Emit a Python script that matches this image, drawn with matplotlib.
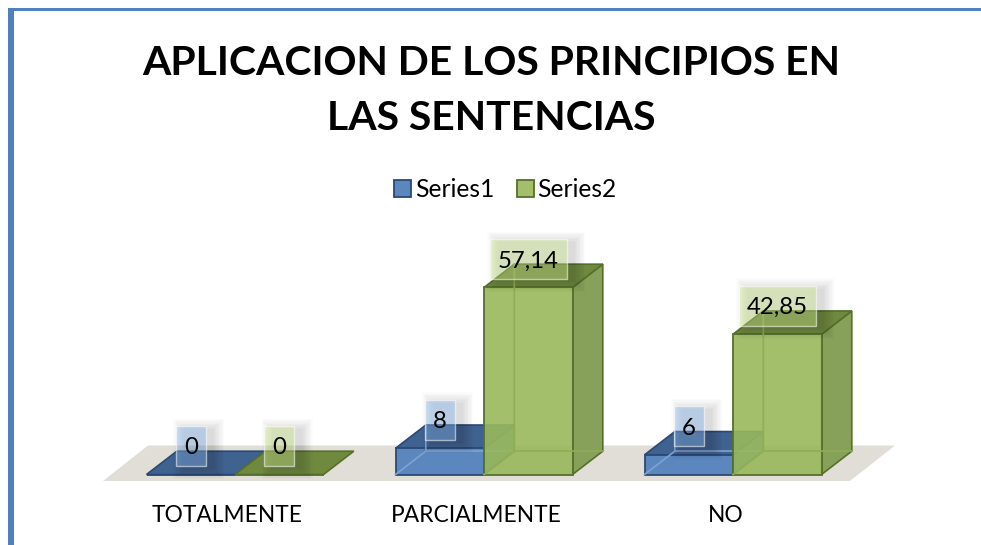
import matplotlib
matplotlib.use('Agg')
from matplotlib import pyplot as plt
from matplotlib.patches import Polygon, Rectangle

categories = ['TOTALMENTE', 'PARCIALMENTE', 'NO']
series1 = [0, 8, 6]
series2 = [0, 57.14, 42.85]
series_names = ['Series1', 'Series2']
title = 'APLICACION DE LOS PRINCIPIOS EN\nLAS SENTENCIAS'

plt.rcParams['font.family'] = ['Lato', 'DejaVu Sans']

W, H = 981, 545
# pixels per data unit, and where category 0 / value 0 sit in the picture
PX_X = 249.0
PX_Y = 3.273
X0 = 235.0
Y0 = 474.5
BAR_W = 88.5 / PX_X
DX = 30.3 / PX_X
DY = 23.3 / PX_Y

fig = plt.figure(figsize=(W / 100, H / 100), dpi=100)
ax = fig.add_axes([0, 0, 1, 1])
ax.set_xlim(-X0 / PX_X, (W - X0) / PX_X)
ax.set_ylim((Y0 - H) / PX_Y, Y0 / PX_Y)
ax.axis('off')


def px(x):
    return (x - X0) / PX_X


def py(y):
    return (Y0 - y) / PX_Y


# page border
fig.add_artist(Rectangle((8 / W, 0), 5.5 / W, 1 - 8 / H, transform=fig.transFigure, color='#4F81BD', lw=0))
fig.add_artist(Rectangle((8 / W, 1 - 10.5 / H), 1, 2.5 / H, transform=fig.transFigure, color='#4F81BD', lw=0))

# floor of the chart
ax.add_patch(Polygon([(px(103), py(481)), (px(850), py(481)), (px(895), py(445.5)), (px(148), py(445.5))],
                     facecolor='#E0DED7', edgecolor='none', zorder=1))


def draw_series(offset, values, front, top, side, edge, inner, name, z):
    xs = [i + offset for i in range(len(values))]
    for x, v in zip(xs, values):
        x0, x1 = x - BAR_W / 2, x + BAR_W / 2
        # back edges, seen through the front face
        if v > 0:
            ax.plot([x0, x0 + DX, x0 + DX], [0, DY, v + DY], color=inner, lw=1.2, zorder=z + 0.6)
            ax.plot([x0 + DX, x1 + DX], [DY, DY], color=inner, lw=1.2, zorder=z + 0.6)
            ax.add_patch(Polygon([(x1, 0), (x1 + DX, DY), (x1 + DX, v + DY), (x1, v)], facecolor=side,
                                 edgecolor=edge, lw=1.2, zorder=z + 0.2))
        ax.add_patch(Polygon([(x0, v), (x1, v), (x1 + DX, v + DY), (x0 + DX, v + DY)], facecolor=top,
                             edgecolor=edge, lw=1.2, zorder=z + 0.4))
    # the legend handle comes from this call, zero bars have no front to see
    ax.bar(xs, values, width=BAR_W, color=front, edgecolor=edge, linewidth=1.3, label=name, zorder=z + 0.5)


draw_series(-BAR_W / 2, series1, '#5B87BE', '#3F6290', '#4A74A8', '#2A4A75', '#7FA3D0', series_names[0], 2)
draw_series(BAR_W / 2, series2, (0.60, 0.72, 0.36, 0.90), '#6F8A3F', '#87A05A', '#56702A', '#8FAD55',
            series_names[1], 3)


def draw_label(x, v, text, rgb, w_px):
    cx, cy = x, v + 28.5 / PX_Y
    w, h = w_px / PX_X, 40 / PX_Y
    # soft shadow behind the label box, pushed to the right and down
    for k in range(9):
        grow = (8 - k) * 1.3
        ax.add_patch(Rectangle((cx - w / 2 + 8 / PX_X - grow / PX_X, cy - h / 2 - 3 / PX_Y - grow / PX_Y),
                               w + 2 * grow / PX_X, h + 2 * grow / PX_Y,
                               facecolor='black', edgecolor='none', alpha=0.014, zorder=5))
    ax.add_patch(Rectangle((cx - w / 2, cy - h / 2), w, h, facecolor=rgb + (0.42,),
                           edgecolor=(1, 1, 1, 0.55), lw=1.0, zorder=6))
    ax.text(cx, cy - 2 / PX_Y, text, ha='center', va='center', fontsize=17.3, color='black', zorder=7)


for i in range(len(categories)):
    for offset, values, rgb in [(-BAR_W / 2, series1, (0.53, 0.72, 0.93)),
                                (BAR_W / 2, series2, (0.80, 0.91, 0.54))]:
        label = f'{values[i]:g}'.replace('.', ',')
        draw_label(i + offset, values[i], label, rgb, 30 if len(label) == 1 else 77)
    ax.text(i - 7.5 / PX_X, py(515), categories[i], ha='center', va='center', fontsize=16.4, color='black')

ax.text(px(491), py(91), title, ha='center', va='center', fontsize=29.4, fontweight='bold',
        color='black', linespacing=1.61)

ax.legend(loc='center', bbox_to_anchor=(505.5 / W, 1 - 189.5 / H), ncol=2, frameon=False, fontsize=17.7,
          handlelength=0.7, handleheight=0.7, handletextpad=0.15, columnspacing=0.9, borderpad=0, borderaxespad=0)

fig.savefig('out.png', dpi=100)
